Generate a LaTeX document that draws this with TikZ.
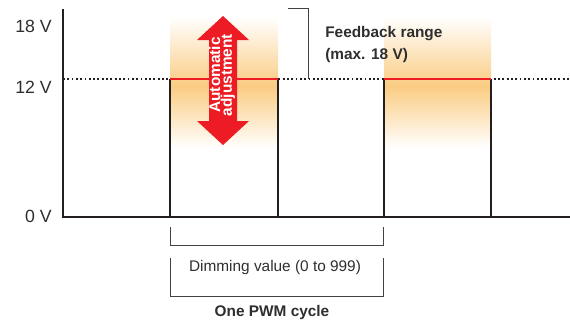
\documentclass[tikz,border=0pt]{standalone}
\usepackage{fontspec}
\setmainfont{Liberation Sans}
\definecolor{ink}{HTML}{231F20}
\definecolor{txt}{HTML}{2E2E2E}
\definecolor{pwmred}{HTML}{ED1C24}
\definecolor{glow}{RGB}{250,204,130}
\begin{document}
\begin{tikzpicture}[x=0.65pt,y=-0.65pt,
  font=\fontsize{10}{14.3}\selectfont,
  axis/.style={ink,line width=1.4pt},
  level/.style={pwmred,line width=1.8pt},
  bracket/.style={ink!85,line width=0.6pt},
  lbl/.style={txt,inner sep=0pt},
  vlbl/.style={lbl,anchor=east,font=\fontsize{11.5}{13}\selectfont}]

\useasboundingbox (0,0) rectangle (570,322);

\def\ylow{217}
\def\yhigh{79}

% glow behind the pulses
\foreach \xa/\xb in {170/278,384/491} {
    \shade[top color=white,bottom color=glow] (\xa,17) rectangle (\xb,86);
    \shade[top color=glow,bottom color=white] (\xa,86) rectangle (\xb,148);
}

% 12 V level
\draw[ink,line width=0.9pt,dash pattern=on 1.2pt off 1.6pt] (63,\yhigh) -- (570,\yhigh);

% axis and pulse train
\draw[axis] (63,9) -- (63,\ylow) -- (570,\ylow);
\foreach \xa/\xb in {170/278,384/491} {
    \draw[axis] (\xa,\ylow) -- (\xa,\yhigh) (\xb,\yhigh) -- (\xb,\ylow);
    \draw[level] (\xa,\yhigh) -- (\xb,\yhigh);
}

\node[vlbl] (v18) at (52,26) {18 V};
\node[vlbl] (v12) at (52,87.5) {12 V};
\node[vlbl] (v0) at (52,216) {0 V};

% double arrow
\fill[pwmred] (223,16) -- (249,40) -- (237,40) -- (237,121) -- (249,121)
    -- (223,145) -- (197,121) -- (209,121) -- (209,40) -- (197,40) -- cycle;
\node[white,font=\bfseries\fontsize{10}{7.6}\selectfont,rotate=90,align=center,inner sep=0pt]
    (adj) at (222,75) {Automatic\\adjustment};

% feedback range
\coordinate (fbtop) at (288,8);
\coordinate (fbbot) at (308,\yhigh);
\draw[bracket] (fbtop) -| (fbbot);
\node[lbl,font=\bfseries\fontsize{10}{14.3}\selectfont,align=left,anchor=north west]
    (fb) at (325,26) {Feedback range\\(max. 18 V)};

% brackets below
\draw[bracket] (170,227) |- (383,245) -- (383,227);
\draw[bracket] (170,258) |- (383,296) -- (383,258);
\node[lbl] (dim) at (275,268) {Dimming value (0 to 999)};
\node[lbl,font=\bfseries\fontsize{10}{12}\selectfont] (cyc) at (272,313) {One PWM cycle};

\end{tikzpicture}
\end{document}
